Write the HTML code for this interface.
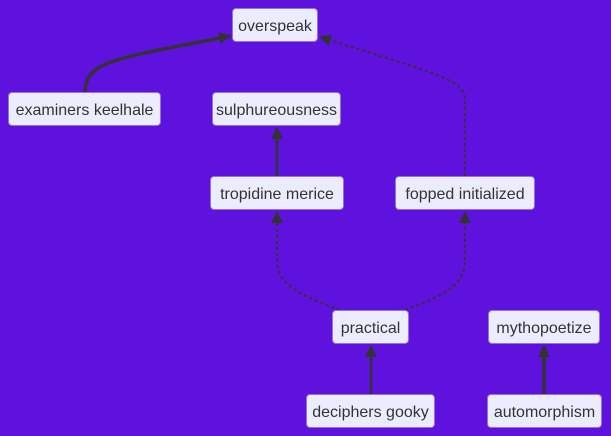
<!DOCTYPE html>
<html><head><style>
body{margin:0;width:611px;height:436px;background:#5f11dd;overflow:hidden;font-family:"Liberation Sans","DejaVu Sans",sans-serif}
.n{position:absolute;box-sizing:border-box;height:34px;background:#ececff;border:1px solid #9370db;border-radius:4px;color:#333;font-size:16px;line-height:35px;text-align:center;white-space:nowrap}
svg{position:absolute;left:0;top:0}
</style></head><body>
<svg width="611" height="436">
<defs><marker id="a" markerWidth="14" markerHeight="14" refX="11" refY="6" orient="auto" markerUnits="userSpaceOnUse"><path d="M0,0L12,6L0,12z" fill="#333"/></marker></defs>
<g fill="none" stroke="#333">
<path d="M85,92 C85,60 120,58 230,36" stroke-width="3.5" marker-end="url(#a)"/>
<path d="M465,176 L465,100 C465,80 440,75 320,37" stroke-width="2" stroke-dasharray="3,3" marker-end="url(#a)"/>
<path d="M277,176 L277,128" stroke-width="2.5" marker-end="url(#a)"/>
<path d="M340,310 C300,295 277,285 277,260 L277,212" stroke-width="2" stroke-dasharray="3,3" marker-end="url(#a)"/>
<path d="M405,310 C445,295 465,285 465,260 L465,212" stroke-width="2" stroke-dasharray="3,3" marker-end="url(#a)"/>
<path d="M371,394 L371,346" stroke-width="2.5" marker-end="url(#a)"/>
<path d="M544,394 L544,346" stroke-width="3.5" marker-end="url(#a)"/>
</g></svg>
<div class="n" style="left:232px;top:8px;width:86px">overspeak</div>
<div class="n" style="left:8px;top:92px;width:153px">examiners keelhale</div>
<div class="n" style="left:212px;top:92px;width:129px">sulphureousness</div>
<div class="n" style="left:210px;top:176px;width:134px">tropidine merice</div>
<div class="n" style="left:395px;top:176px;width:140px">fopped initialized</div>
<div class="n" style="left:332px;top:310px;width:77px">practical</div>
<div class="n" style="left:488px;top:310px;width:112px">mythopoetize</div>
<div class="n" style="left:306px;top:394px;width:129px">deciphers gooky</div>
<div class="n" style="left:487px;top:394px;width:115px">automorphism</div>
</body></html>
